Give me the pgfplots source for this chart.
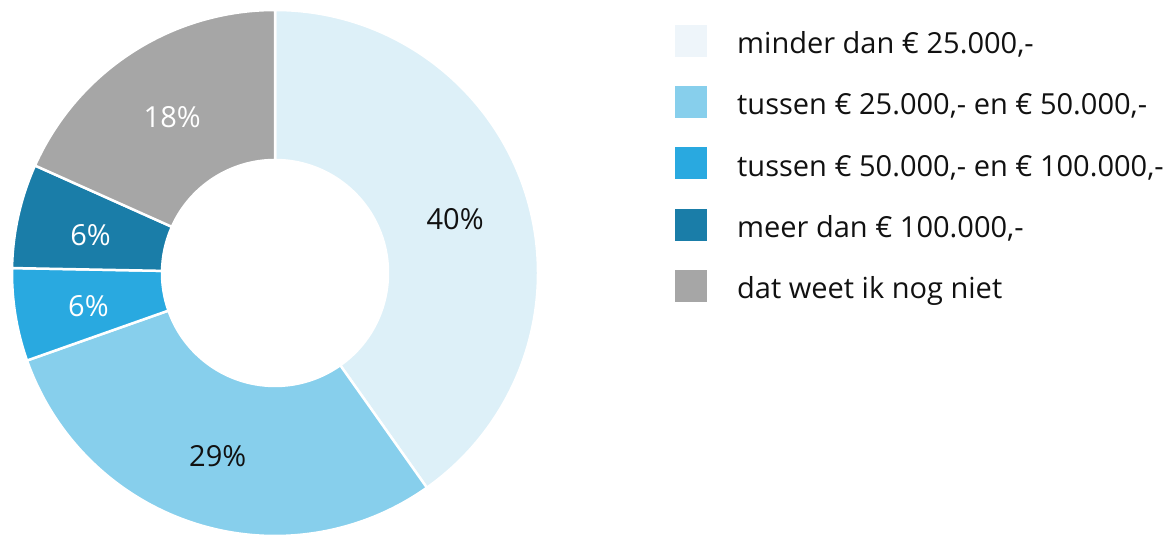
\documentclass[border=0pt]{standalone}
\usepackage{pgfplots}
\pgfplotsset{compat=1.18}
\usepackage{pgfplotstable}
\usepackage{fontspec}
\setmainfont{Open Sans}
\definecolor{c0}{HTML}{DDF0F8}
\definecolor{c1}{HTML}{87CFEC}
\definecolor{c2}{HTML}{29A9E0}
\definecolor{c3}{HTML}{1A7DA8}
\definecolor{c4}{HTML}{A6A6A6}
\definecolor{lc0}{HTML}{EEF5FA}
\colorlet{lc1}{c1}\colorlet{lc2}{c2}\colorlet{lc3}{c3}\colorlet{lc4}{c4}
\definecolor{tc0}{HTML}{111111}
\definecolor{tc1}{HTML}{111111}
\colorlet{tc2}{white}\colorlet{tc3}{white}\colorlet{tc4}{white}
\definecolor{txt}{HTML}{111111}
\pgfplotstableread{
v
40.2
29.4
5.7
6.4
18.3
}\data
\begin{document}
\begin{tikzpicture}
\gdef\tot{0}
\foreach \i in {0,...,4}{\pgfplotstablegetelem{\i}{v}\of\data\let\val\pgfplotsretval\pgfmathsetmacro\t{\tot+\val}\xdef\tot{\t}}
\gdef\acc{90}
\foreach \i in {0,...,4}{\pgfplotstablegetelem{\i}{v}\of\data\let\val\pgfplotsretval
 \pgfmathsetmacro\e{\acc-360*\val/\tot}%
 \pgfmathsetmacro\m{(\acc+\e)/2}%
 \pgfmathtruncatemacro\r{round(\val)}%
 \expandafter\xdef\csname sa\i\endcsname{\acc}%
 \expandafter\xdef\csname ea\i\endcsname{\e}%
 \expandafter\xdef\csname ma\i\endcsname{\m}%
 \expandafter\xdef\csname lv\i\endcsname{\r}%
 \xdef\acc{\e}}
\begin{axis}[scale only axis, width=1168bp, height=535bp, xmin=0, xmax=1168, ymin=0, ymax=535,
  hide axis, clip=false, enlargelimits=false]
\path (axis cs:0,0) rectangle (axis cs:1168,535);
\pgfplotsinvokeforeach{0,...,4}{
 \fill[fill=c#1, draw=white, line width=2.5bp, line join=miter]
  (axis cs:{275+263*cos(\csname sa#1\endcsname)},{262+263*sin(\csname sa#1\endcsname)})
  arc[start angle=\csname sa#1\endcsname, end angle=\csname ea#1\endcsname, radius=263bp]
  -- (axis cs:{275+113*cos(\csname ea#1\endcsname)},{262+113*sin(\csname ea#1\endcsname)})
  arc[start angle=\csname ea#1\endcsname, end angle=\csname sa#1\endcsname, radius=113bp]
  -- cycle;
 \node[text=tc#1, font=\fontsize{29bp}{34bp}\selectfont] at (axis cs:{275+189*cos(\csname ma#1\endcsname)},{259+189*sin(\csname ma#1\endcsname)}) {\csname lv#1\endcsname\%};
 \fill[lc#1] (axis cs:675,{535-25-61.2*#1}) rectangle (axis cs:707,{535-57-61.2*#1});
}
\tikzset{lt/.style={anchor=base west, inner sep=0pt, text=txt, font=\fontsize{29bp}{34bp}\selectfont}}
\node[lt] at (axis cs:737,{535-53.7}) {minder dan € 25.000,-};
\node[lt] at (axis cs:737,{535-53.7-61.2}) {tussen € 25.000,- en € 50.000,-};
\node[lt] at (axis cs:737,{535-53.7-122.4}) {tussen € 50.000,- en € 100.000,-};
\node[lt] at (axis cs:737,{535-53.7-183.6}) {meer dan € 100.000,-};
\node[lt] at (axis cs:737,{535-53.7-244.8}) {dat weet ik nog niet};
\end{axis}
\end{tikzpicture}
\end{document}
